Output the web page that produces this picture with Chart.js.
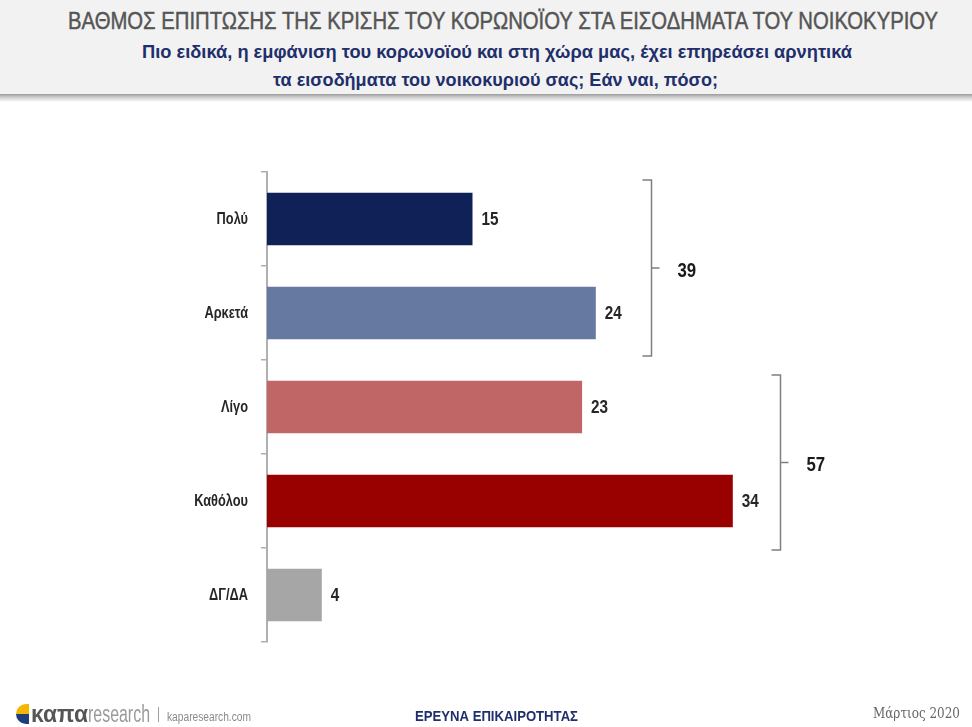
<!DOCTYPE html>
<html>
<head>
<meta charset="utf-8">
<script src="https://cdn.jsdelivr.net/npm/chart.js@4/dist/chart.umd.min.js"></script>
<style>
  html, body { margin:0; padding:0; background:#fff; width:972px; height:727px; overflow:hidden; }
  body { position:relative; font-family:"Liberation Sans",Arial,sans-serif; }
  #hdr { position:absolute; left:0; top:0; width:972px; height:94px; background:#f2f2f2; }
  #shadow { position:absolute; left:0; top:94px; width:972px; height:8px;
    background:linear-gradient(#9a9a9a, #c8c8c8 35%, #ffffff); }
  .fit { position:absolute; white-space:nowrap; transform-origin:0 0; line-height:1; }
  #title { top:10px; font-size:23px; color:#555555; -webkit-text-stroke:0.45px #555555; }
  .sub { font-size:19px; font-weight:bold; color:#1f2f6b; }
  #c { position:absolute; left:0; top:0; }
  #foot1 { top:709px; font-size:14px; font-weight:bold; color:#1f2f6b; }
  #date { top:706px; font-family:"DejaVu Serif","Liberation Serif",serif; font-size:14px; color:#666; }
  #icon { position:absolute; left:16px; top:704px; width:13px; height:20px; }
  #icon .a { position:absolute; left:0; top:0; width:13px; height:10px; background:#f2b705; border-radius:13px 0 0 0; }
  #icon .b { position:absolute; left:0; top:10px; width:13px; height:10px; background:#1f3d7a; border-radius:0 0 0 13px; }
  #kapa { top:703px; font-weight:bold; font-size:23px; color:#555; }
  #res { top:703px; font-size:23px; color:#9a9a9a; }
  #bar { top:706px; font-size:16px; color:#9a9a9a; }
  #site { top:711px; font-size:12px; color:#8a8a8a; }
</style>
</head>
<body>
<div id="hdr"></div>
<div id="shadow"></div>
<div id="title" class="fit" data-l="68" data-w="870">ΒΑΘΜΟΣ ΕΠΙΠΤΩΣΗΣ ΤΗΣ ΚΡΙΣΗΣ ΤΟΥ ΚΟΡΩΝΟΪΟΥ ΣΤΑ ΕΙΣΟΔΗΜΑΤΑ ΤΟΥ ΝΟΙΚΟΚΥΡΙΟΥ</div>
<div class="sub fit" style="top:42px" data-l="142" data-w="710">Πιο ειδικά, η εμφάνιση του κορωνοϊού και στη χώρα μας, έχει επηρεάσει αρνητικά</div>
<div class="sub fit" style="top:70px" data-l="273" data-w="445">τα εισοδήματα του νοικοκυριού σας; Εάν ναι, πόσο;</div>
<canvas id="c" width="972" height="727"></canvas>
<div id="icon"><div class="a"></div><div class="b"></div></div>
<div id="kapa" class="fit" data-l="31" data-w="57">καπα</div>
<div id="res" class="fit" data-l="88" data-w="62">research</div>
<div id="bar" class="fit" data-l="157" data-w="3">|</div>
<div id="site" class="fit" data-l="167" data-w="84">kaparesearch.com</div>
<div id="foot1" class="fit" data-l="415" data-w="163">ΕΡΕΥΝΑ ΕΠΙΚΑΙΡΟΤΗΤΑΣ</div>
<div id="date" class="fit" data-l="873" data-w="87">Μάρτιος 2020</div>
<script>
document.querySelectorAll('.fit').forEach(el => {
  const w = el.getBoundingClientRect().width;
  const target = parseFloat(el.dataset.w);
  el.style.left = el.dataset.l + 'px';
  el.style.transform = 'scaleX(' + (target / w) + ')';
});

const categories = ["Πολύ", "Αρκετά", "Λίγο", "Καθόλου", "ΔΓ/ΔΑ"];
const values = [15, 24, 23, 34, 4];
const barColors = ["#0f2157", "#6679a0", "#c06666", "#990000", "#a6a6a6"];
const groupFrom = [0, 2];
const groupTo = [1, 3];
const groupTotals = [39, 57];

const FONT = '"Liberation Sans",Arial,sans-serif';

function narrowText(ctx, text, x, y, font, sx, align) {
  ctx.save();
  ctx.font = font;
  ctx.textBaseline = 'middle';
  ctx.textAlign = align;
  ctx.translate(x, y);
  ctx.scale(sx, 1);
  ctx.fillText(text, 0, 0);
  ctx.restore();
}

const overlay = {
  id: 'overlay',
  afterDatasetsDraw(chart, args, opts) {
    const ctx = chart.ctx;
    const meta = chart.getDatasetMeta(0);
    const xs = chart.scales.x, ys = chart.scales.y;
    ctx.save();
    ctx.fillStyle = '#262626';
    categories.forEach((lab, i) => {
      narrowText(ctx, lab, ys.right - 19, ys.getPixelForValue(i) + 1, 'bold 16px ' + FONT, 0.8, 'right');
    });
    meta.data.forEach((bar, i) => {
      narrowText(ctx, String(values[i]), bar.x + 9, bar.y + 1, 'bold 18px ' + FONT, 0.85, 'left');
    });
    ctx.strokeStyle = '#808080';
    ctx.lineWidth = 1.5;
    for (let g = 0; g < groupTotals.length; g++) {
      let maxV = 0;
      for (let k = groupFrom[g]; k <= groupTo[g]; k++) maxV = Math.max(maxV, values[k]);
      const bx = Math.round(xs.getPixelForValue(maxV)) + opts.gap[g] + 0.5;
      const top = ys.getPixelForValue(groupFrom[g]) - opts.above[g];
      const bot = ys.getPixelForValue(groupTo[g]) + opts.below[g];
      const mid = (top + bot) / 2;
      ctx.beginPath();
      ctx.moveTo(bx - 9, top);
      ctx.lineTo(bx, top);
      ctx.lineTo(bx, bot);
      ctx.lineTo(bx - 9, bot);
      ctx.moveTo(bx, mid);
      ctx.lineTo(bx + 8, mid);
      ctx.stroke();
      ctx.fillStyle = '#1a1a1a';
      narrowText(ctx, String(groupTotals[g]), bx + 26, mid + 3, 'bold 21px ' + FONT, 0.8, 'left');
    }
    ctx.restore();
  }
};

new Chart(document.getElementById('c'), {
  type: 'bar',
  data: {
    labels: categories,
    datasets: [{
      data: values,
      backgroundColor: barColors,
      borderWidth: 0,
      categoryPercentage: 1.0,
      barPercentage: 0.56
    }]
  },
  options: {
    indexAxis: 'y',
    responsive: false,
    animation: false,
    layout: { padding: { top: 172, bottom: 85, left: 0, right: 20 } },
    plugins: {
      legend: { display: false }, tooltip: { enabled: false }, title: { display: false },
      overlay: { gap: [55, 47], above: [39, 32], below: [43, 49] }
    },
    scales: {
      x: { display: false, min: 0, max: 50 },
      y: {
        afterFit(scale) { scale.width = 267; },
        border: { display: true, color: '#b0b0b0', width: 2 },
        grid: { display: true, drawOnChartArea: false, drawTicks: true, tickLength: 6, color: '#b0b0b0', lineWidth: 1.5, offset: true },
        ticks: { display: false }
      }
    }
  },
  plugins: [overlay]
});
</script>
</body>
</html>
